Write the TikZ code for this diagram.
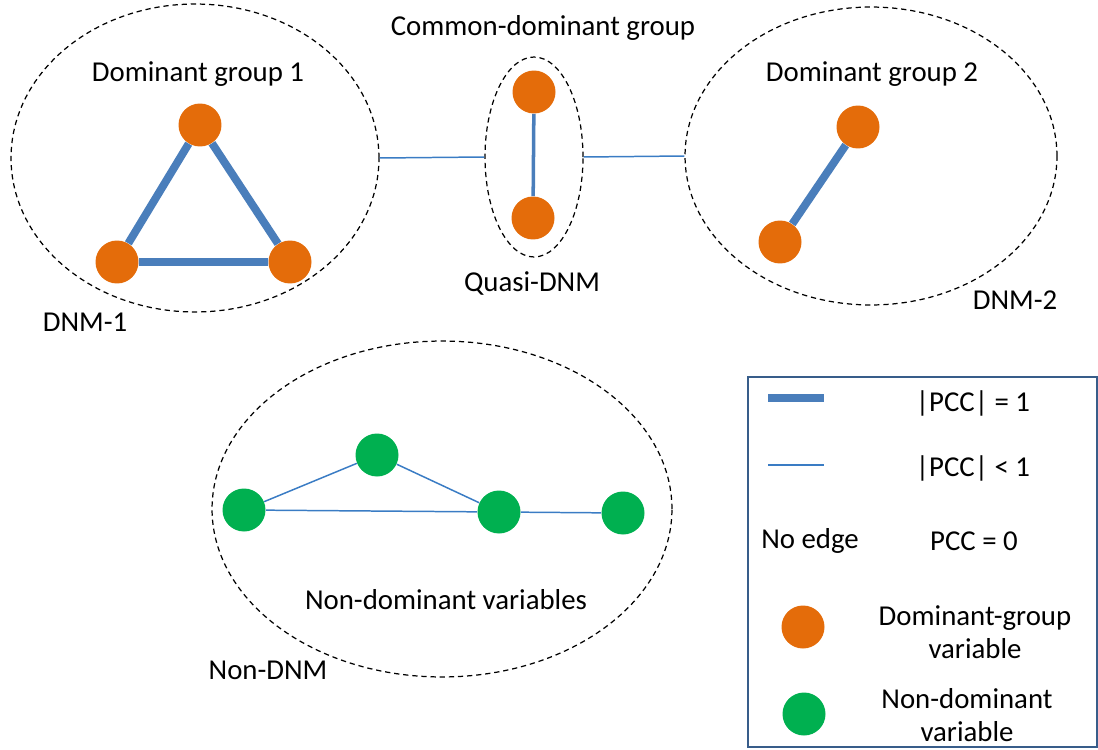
\documentclass[tikz,border=0pt]{standalone}
\usepackage{fontspec}
\setmainfont{Carlito}
\usepackage{tikz}
\usetikzlibrary{shapes.geometric}
\definecolor{domorange}{HTML}{E46C0A}
\definecolor{nongreen}{HTML}{00B050}
\definecolor{edgeblue}{HTML}{4A7EBB}
\definecolor{thinblue}{HTML}{3A7CC4}
\definecolor{boxblue}{HTML}{385D8A}
\tikzset{
  dom/.style={circle, fill=domorange, inner sep=0pt, minimum size=0.86cm},
  nondom/.style={circle, fill=nongreen, inner sep=0pt, minimum size=0.86cm},
  grp/.style={ellipse, draw=black, line width=0.7pt, dash pattern=on 3pt off 2.2pt, inner sep=0pt},
  pccone/.style={draw=edgeblue, line width=4.5pt},
  pccmid/.style={draw=edgeblue, line width=2pt},
  pccless/.style={draw=thinblue, line width=0.85pt},
  lbl/.style={font=\fontsize{16.4}{18.7}\selectfont, inner sep=0pt, align=center}
}

\begin{document}
\begin{tikzpicture}[x=0.02cm, y=-0.02cm]
                        \useasboundingbox (0,0) rectangle (1098,750);
                        \node[grp, minimum width=7.36cm, minimum height=6.16cm] (dnm1) at (195,158) {};
                        \node[grp, minimum width=1.96cm, minimum height=4cm] (quasi) at (534,157) {};
                        \node[grp, minimum width=7.44cm, minimum height=5.96cm] (dnm2) at (871,156) {};
                        \node[grp, minimum width=9.2cm, minimum height=6.72cm] (nondnm) at (442,509) {};
                        \node[dom] (a1) at (200,125) {};
                        \node[dom] (a2) at (117,262) {};
                        \node[dom] (a3) at (290,262) {};
                        \node[dom] (q1) at (534,92) {};
                        \node[dom] (q2) at (533,218) {};
                        \node[dom] (b1) at (858,127) {};
                        \node[dom] (b2) at (780,242) {};
                        \node[nondom] (n1) at (244,510) {};
                        \node[nondom] (n2) at (377,455) {};
                        \node[nondom] (n3) at (499,512) {};
                        \node[nondom] (n4) at (623,513) {};
                        \draw[pccone] (a1) -- (a2) -- (a3) -- (a1);
                        \draw[pccone] (b1) -- (b2);
                        \draw[pccmid] (q1) -- (q2);
                        \draw[pccless] (dnm1.east) -- (quasi.west);
                        \draw[pccless] (quasi.east) -- (dnm2.west);
                        \draw[pccless] (n1) -- (n2) -- (n3) -- (n4);
                        \draw[pccless] (n1) -- (n3);
                        \node[lbl] (t1) at (198,74) {Dominant group 1};
                        \node[lbl] (t2) at (543,28) {Common-dominant group};
                        \node[lbl] (t3) at (872,74) {Dominant group 2};
                        \node[lbl] (t4) at (85,322) {DNM-1};
                        \node[lbl] (t5) at (532,283) {Quasi-DNM};
                        \node[lbl] (t6) at (1015,300) {DNM-2};
                        \node[lbl] (t7) at (446,600) {Non-dominant variables};
                        \node[lbl] (t8) at (268,670) {Non-DNM};
                        \draw[boxblue, line width=1.3pt] (748,377) rectangle (1097,747);
                        \coordinate (l1a) at (768,398);
                        \coordinate (l1b) at (824,398);
                        \coordinate (l2a) at (768,465);
                        \coordinate (l2b) at (824,465);
                        \draw[pccone] (l1a) -- (l1b);
                        \draw[pccless] (l2a) -- (l2b);
                        \node[lbl] (k1) at (973,403) {|PCC| = 1};
                        \node[lbl] (k2) at (973,468) {|PCC| < 1};
                        \node[lbl] (k3) at (810,541) {No edge};
                        \node[lbl] (k4) at (974,541) {PCC = 0};
                        \node[dom] (k5) at (803,627) {};
                        \node[lbl] (k6) at (975,632) {Dominant-group\\variable};
                        \node[nondom] (k7) at (804,714) {};
                        \node[lbl] (k8) at (967,715) {Non-dominant\\variable};
                    \end{tikzpicture}
\end{document}
